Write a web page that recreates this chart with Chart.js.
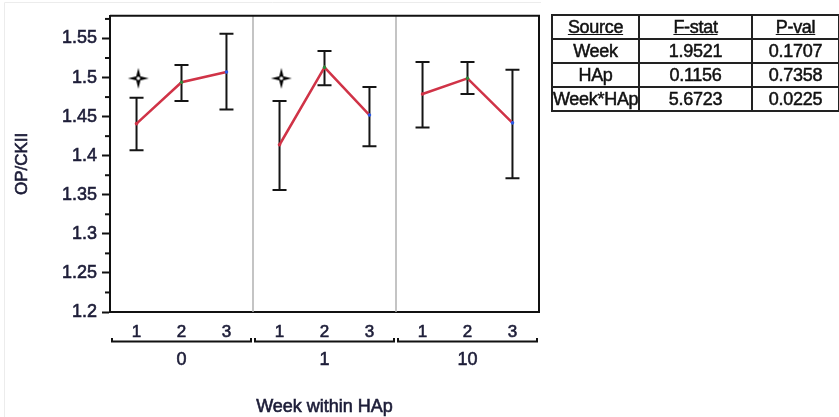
<!DOCTYPE html>
<html>
<head>
<meta charset="utf-8">
<script src="https://cdn.jsdelivr.net/npm/chart.js@4.4.1/dist/chart.umd.min.js"></script>
<style>
  html, body { margin: 0; padding: 0; background: #fff; }
  #wrap { position: relative; width: 839px; height: 417px; overflow: hidden; }
  #chart { position: absolute; left: 0; top: 0; }
  #stats { position: absolute; left: 551px; top: 14px; width: 287px; border-collapse: collapse;
           table-layout: fixed;
           font-family: "Liberation Sans", Arial, sans-serif; font-size: 18px; color: #111;
           letter-spacing: -0.3px; -webkit-text-stroke: 0.5px #111; }
  #stats td, #stats th { border: 2px solid #222; height: 22px; line-height: 22px; padding: 0;
                         text-align: center; font-weight: normal; white-space: nowrap; }
  #stats th { text-decoration: underline; }
</style>
</head>
<body>
<div id="wrap">
  <canvas id="chart" width="839" height="417"></canvas>
  <table id="stats">
    <colgroup><col style="width:87px"><col style="width:113px"><col style="width:87px"></colgroup>
    <thead><tr id="statsHead"></tr></thead>
    <tbody id="statsBody"></tbody>
  </table>
</div>
<script>
// values
const hapLevels = ["0", "1", "10"];
const weeks = ["1", "2", "3"];
const meanByHap  = [[1.441, 1.494, 1.507], [1.414, 1.513, 1.452], [1.479, 1.499, 1.442]];
const upperByHap = [[1.474, 1.516, 1.556], [1.470, 1.534, 1.488], [1.520, 1.520, 1.510]];
const lowerByHap = [[1.407, 1.470, 1.459], [1.356, 1.490, 1.412], [1.436, 1.479, 1.371]];
const starredHap = ["0", "1"];
const starValue = 1.499;
const yTicks = [1.2, 1.25, 1.3, 1.35, 1.4, 1.45, 1.5, 1.55];
const yMinor = [1.225, 1.275, 1.325, 1.375, 1.425, 1.475, 1.525, 1.575];

const statsHeader = ["Source", "F-stat", "P-val"];
const statsSources = ["Week", "HAp", "Week*HAp"];
const statsF = ["1.9521", "0.1156", "5.6723"];
const statsP = ["0.1707", "0.7358", "0.0225"];

const FONT = "'Liberation Sans', Arial, sans-serif";
const TEXT = "#1d1d38";
const INK = "#111";
const SPAN = 3.18; // x units per HAp panel (3 weeks + gap)
const pos = (p, w) => p * SPAN + w;

// stats table (real text)
const head = document.getElementById("statsHead");
statsHeader.forEach(h => { const th = document.createElement("th"); th.textContent = h; head.appendChild(th); });
const body = document.getElementById("statsBody");
statsSources.forEach((s, i) => {
  const tr = document.createElement("tr");
  [s, statsF[i], statsP[i]].forEach(t => { const td = document.createElement("td"); td.textContent = t; tr.appendChild(td); });
  body.appendChild(tr);
});

// 4-point star marker
function makeStar() {
  const c = document.createElement("canvas");
  c.width = 24; c.height = 24;
  const g = c.getContext("2d");
  const cx = 12, cy = 12, R = 10.5, r = 3;
  g.beginPath();
  for (let k = 0; k < 8; k++) {
    const a = -Math.PI / 2 + k * Math.PI / 4;
    const rad = k % 2 === 0 ? R : r;
    const px = cx + rad * Math.cos(a), py = cy + rad * Math.sin(a);
    k === 0 ? g.moveTo(px, py) : g.lineTo(px, py);
  }
  g.closePath();
  g.fillStyle = "#000";
  g.fill();
  g.beginPath();
  g.arc(cx, cy, 1.8, 0, Math.PI * 2);
  g.fillStyle = "#fff";
  g.fill();
  return c;
}

const weekPositions = [];
hapLevels.forEach((h, p) => weeks.forEach((w, i) => weekPositions.push(pos(p, i))));

const datasets = hapLevels.map((h, p) => ({
  label: "HAp " + h,
  data: weeks.map((w, i) => ({ x: pos(p, i), y: meanByHap[p][i] })),
  showLine: true,
  borderColor: "#d03347",
  borderWidth: 2.5,
  pointRadius: 1.8,
  pointBorderWidth: 0,
  pointBackgroundColor: ["#d03347", "#2f8a3c", "#2a58e6"]
}));
datasets.push({
  label: "star",
  data: starredHap.map(h => ({ x: pos(hapLevels.indexOf(h), 0) + 0.04, y: starValue })),
  pointStyle: makeStar(),
  pointRadius: 10
});

function heavyText(ctx, t, x, y) {
  ctx.fillText(t, x, y);
  ctx.strokeText(t, x, y);
}

const errorBars = {
  id: "errorBars",
  beforeDatasetsDraw(chart) {
    const { ctx, chartArea, scales: { x, y } } = chart;
    ctx.save();
    // panel dividers
    ctx.strokeStyle = "#b0b0b0";
    ctx.lineWidth = 1.5;
    for (let p = 1; p < hapLevels.length; p++) {
      const px = x.getPixelForValue(p * SPAN - (SPAN - 2) / 2);
      ctx.beginPath(); ctx.moveTo(px, chartArea.top); ctx.lineTo(px, chartArea.bottom); ctx.stroke();
    }
    ctx.strokeStyle = "#151515";
    ctx.lineWidth = 2;
    hapLevels.forEach((h, p) => weeks.forEach((w, i) => {
      const px = x.getPixelForValue(pos(p, i));
      const top = y.getPixelForValue(upperByHap[p][i]);
      const bot = y.getPixelForValue(lowerByHap[p][i]);
      ctx.beginPath();
      ctx.moveTo(px, top); ctx.lineTo(px, bot);
      ctx.moveTo(px - 7, top); ctx.lineTo(px + 7, top);
      ctx.moveTo(px - 7, bot); ctx.lineTo(px + 7, bot);
      ctx.stroke();
    }));
    ctx.restore();
  },
  afterDraw(chart) {
    const { ctx, chartArea, scales: { x, y } } = chart;
    ctx.save();
    // faint outer frame
    ctx.strokeStyle = "#ececec";
    ctx.lineWidth = 1;
    ctx.beginPath(); ctx.moveTo(4.5, 417); ctx.lineTo(4.5, 2.5); ctx.lineTo(541, 2.5); ctx.stroke();
    // plot frame top and right
    ctx.strokeStyle = INK;
    ctx.lineWidth = 2;
    ctx.beginPath();
    ctx.moveTo(chartArea.left, chartArea.top); ctx.lineTo(chartArea.right, chartArea.top);
    ctx.lineTo(chartArea.right, chartArea.bottom);
    ctx.stroke();
    // minor ticks
    yMinor.forEach(v => {
      const py = y.getPixelForValue(v);
      ctx.beginPath(); ctx.moveTo(chartArea.left - 5, py); ctx.lineTo(chartArea.left, py); ctx.stroke();
    });
    // group brackets and HAp labels
    hapLevels.forEach((h, p) => {
      const l = x.getPixelForValue(p * SPAN - (SPAN - 2) / 2) + 2;
      const r = x.getPixelForValue(p * SPAN + 2 + (SPAN - 2) / 2) - 2;
      ctx.beginPath();
      ctx.moveTo(l, 338); ctx.lineTo(l, 341.5); ctx.lineTo(r, 341.5); ctx.lineTo(r, 338);
      ctx.stroke();
    });
    ctx.fillStyle = TEXT;
    ctx.strokeStyle = TEXT;
    ctx.lineWidth = 0.6;
    ctx.font = "18px " + FONT;
    ctx.textAlign = "center";
    ctx.textBaseline = "alphabetic";
    hapLevels.forEach((h, p) => heavyText(ctx, h, x.getPixelForValue(pos(p, 1)), 365));
    // axis titles
    heavyText(ctx, "Week within HAp", (chartArea.left + chartArea.right) / 2, 412);
    ctx.font = "17px " + FONT;
    ctx.translate(27, (chartArea.top + chartArea.bottom) / 2);
    ctx.rotate(-Math.PI / 2);
    heavyText(ctx, "OP/CKII", 0, 0);
    ctx.restore();
  }
};

new Chart(document.getElementById("chart"), {
  type: "scatter",
  data: { datasets },
  options: {
    responsive: false,
    animation: false,
    devicePixelRatio: 1,
    layout: { padding: { left: 0, top: 12, right: 300, bottom: 0 } },
    plugins: { legend: { display: false }, tooltip: { enabled: false } },
    scales: {
      x: {
        type: "linear",
        min: -(SPAN - 2) / 2,
        max: 2 * SPAN + 2 + (SPAN - 2) / 2,
        afterBuildTicks: s => { s.ticks = weekPositions.map(v => ({ value: v })); },
        afterFit: s => { s.height = 105; },
        ticks: {
          autoSkip: false, maxRotation: 0, padding: 10,
          font: { family: FONT, size: 17 }, color: TEXT,
          textStrokeColor: TEXT, textStrokeWidth: 0.6,
          callback: (v, i) => weeks[i % weeks.length]
        },
        grid: { drawOnChartArea: false, drawTicks: false },
        border: { display: true, color: INK, width: 2 }
      },
      y: {
        min: 1.2,
        max: 1.579,
        afterBuildTicks: s => { s.ticks = yTicks.map(v => ({ value: v })); },
        afterFit: s => { s.width = 110; },
        ticks: {
          padding: 5, font: { family: FONT, size: 18 }, color: TEXT,
          textStrokeColor: TEXT, textStrokeWidth: 0.6,
          callback: v => String(+v.toFixed(2))
        },
        grid: { drawOnChartArea: false, drawTicks: true, tickLength: 8, tickColor: INK, tickWidth: 2 },
        border: { display: true, color: INK, width: 2 }
      }
    }
  },
  plugins: [errorBars]
});
</script>
</body>
</html>
